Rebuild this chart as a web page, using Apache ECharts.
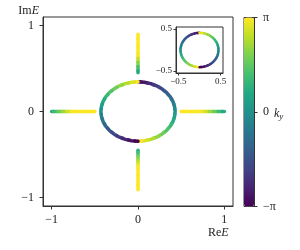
<!DOCTYPE html>
<html>
<head>
<meta charset="utf-8">
<script src="https://cdn.jsdelivr.net/npm/echarts@6/dist/echarts.min.js"></script>
<style>html,body{margin:0;padding:0;background:#fff}#c{width:300px;height:250px}</style>
</head>
<body>
<div id="c"></div>
<script>
// ---- data ----
const ringRightRe = [0, 0.075, 0.147, 0.215, 0.276, 0.329, 0.372, 0.404, 0.423, 0.43, 0.423, 0.404, 0.372, 0.329, 0.276, 0.215, 0.147, 0.075, 0];
const ringRightIm = [0.345, 0.340, 0.324, 0.299, 0.264, 0.222, 0.173, 0.118, 0.060, 0, -0.060, -0.118, -0.173, -0.222, -0.264, -0.299, -0.324, -0.340, -0.345];
const ringRightK  = [-3.14, -2.79, -2.44, -2.09, -1.75, -1.40, -1.05, -0.70, -0.35, 0, 0.35, 0.70, 1.05, 1.40, 1.75, 2.09, 2.44, 2.79, 3.14];
const ringLeftRe  = [0, -0.075, -0.147, -0.215, -0.276, -0.329, -0.372, -0.404, -0.423, -0.43, -0.423, -0.404, -0.372, -0.329, -0.276, -0.215, -0.147, -0.075, 0];
const ringLeftIm  = [0.345, 0.340, 0.324, 0.299, 0.264, 0.222, 0.173, 0.118, 0.060, 0, -0.060, -0.118, -0.173, -0.222, -0.264, -0.299, -0.324, -0.340, -0.345];
const ringLeftK   = [3.14, 2.79, 2.44, 2.09, 1.75, 1.40, 1.05, 0.70, 0.35, 0, -0.35, -0.70, -1.05, -1.40, -1.75, -2.09, -2.44, -2.79, -3.14];

const leftArmRe  = [-1.0, -0.95, -0.9, -0.85, -0.8, -0.75, -0.7, -0.6, -0.5];
const leftArmIm  = [0, 0, 0, 0, 0, 0, 0, 0, 0];
const leftArmK   = [0.7, 1.2, 1.7, 2.2, 2.7, 3.05, 3.14, 3.14, 3.14];
const rightArmRe = [0.5, 0.6, 0.7, 0.75, 0.8, 0.85, 0.9, 0.95, 1.0];
const rightArmIm = [0, 0, 0, 0, 0, 0, 0, 0, 0];
const rightArmK  = [3.14, 3.14, 3.14, 3.05, 2.7, 2.2, 1.7, 1.2, 0.7];
const topArmRe   = [0, 0, 0, 0, 0, 0, 0, 0];
const topArmIm   = [0.9, 0.8, 0.7, 0.64, 0.6, 0.55, 0.5, 0.45];
const topArmK    = [3.14, 3.14, 3.14, 3.05, 2.6, 2.0, 1.3, 0.7];
const botArmRe   = [0, 0, 0, 0, 0, 0, 0, 0];
const botArmIm   = [-0.45, -0.5, -0.55, -0.6, -0.64, -0.7, -0.8, -0.91];
const botArmK    = [0.7, 1.3, 2.0, 2.6, 3.05, 3.14, 3.14, 3.14];

const insetLeftRe  = [0, -0.078, -0.154, -0.225, -0.289, -0.345, -0.390, -0.423, -0.443, -0.45, -0.443, -0.423, -0.390, -0.345, -0.289, -0.225, -0.154, -0.078, 0];
const insetLeftIm  = [0.41, 0.404, 0.385, 0.355, 0.314, 0.264, 0.205, 0.140, 0.071, 0, -0.071, -0.140, -0.205, -0.264, -0.314, -0.355, -0.385, -0.404, -0.41];
const insetLeftK   = [-3.14, -2.79, -2.44, -2.09, -1.75, -1.40, -1.05, -0.70, -0.35, 0, 0.35, 0.70, 1.05, 1.40, 1.75, 2.09, 2.44, 2.79, 3.14];
const insetRightRe = [0, 0.078, 0.154, 0.225, 0.289, 0.345, 0.390, 0.423, 0.443, 0.45, 0.443, 0.423, 0.390, 0.345, 0.289, 0.225, 0.154, 0.078, 0];
const insetRightIm = [0.41, 0.404, 0.385, 0.355, 0.314, 0.264, 0.205, 0.140, 0.071, 0, -0.071, -0.140, -0.205, -0.264, -0.314, -0.355, -0.385, -0.404, -0.41];
const insetRightK  = [3.14, 2.79, 2.44, 2.09, 1.75, 1.40, 1.05, 0.70, 0.35, 0, -0.35, -0.70, -1.05, -1.40, -1.75, -2.09, -2.44, -2.79, -3.14];

const mainTicks = [-1, 0, 1];
const mainTickLabels = ['−1', '0', '1'];
const insetTicks = [-0.5, 0.5];
const insetTickLabels = ['−0.5', '0.5'];
const cbTicks = [-Math.PI, 0, Math.PI];
const cbTickLabels = ['−π', '0', 'π'];
const viridis = ['#440154', '#482475', '#414487', '#355f8d', '#2a788e', '#21918c', '#22a884', '#44bf70', '#7ad151', '#bddf26', '#fde725'];

// ---- build ----
const mainCurves = [
  {re: ringRightRe, im: ringRightIm, k: ringRightK},
  {re: ringLeftRe, im: ringLeftIm, k: ringLeftK},
  {re: leftArmRe, im: leftArmIm, k: leftArmK},
  {re: rightArmRe, im: rightArmIm, k: rightArmK},
  {re: topArmRe, im: topArmIm, k: topArmK},
  {re: botArmRe, im: botArmIm, k: botArmK}
];
const insetCurves = [
  {re: insetLeftRe, im: insetLeftIm, k: insetLeftK},
  {re: insetRightRe, im: insetRightIm, k: insetRightK}
];
function toData(curves) {
  const out = [];
  curves.forEach((c, ci) => c.re.forEach((r, i) => out.push([r, c.im[i], c.k[i], ci, i])));
  return out;
}
function makeRender(curves, width) {
  return function (params, api) {
    const c = curves[api.value(3)];
    const i = api.value(4);
    const n = c.re.length;
    const p = api.coord([c.re[i], c.im[i]]);
    const pts = [];
    if (i > 0) { const q = api.coord([c.re[i - 1], c.im[i - 1]]); pts.push([(p[0] + q[0]) / 2, (p[1] + q[1]) / 2]); }
    pts.push(p);
    if (i < n - 1) { const q = api.coord([c.re[i + 1], c.im[i + 1]]); pts.push([(p[0] + q[0]) / 2, (p[1] + q[1]) / 2]); }
    return {type: 'polyline', shape: {points: pts},
      style: {stroke: api.visual('color'), lineWidth: width, lineCap: 'round', lineJoin: 'round', fill: null}};
  };
}
const serif = 'Liberation Serif';
const ax = '#333';
const fmt = (vals, labels) => v => { const j = vals.findIndex(t => Math.abs(t - v) < 1e-6); return j >= 0 ? labels[j] : ''; };

const chart = echarts.init(document.getElementById('c'), null, {renderer: 'canvas'});
chart.setOption({
  animation: false,
  backgroundColor: '#fff',
  grid: [
    {left: 43, top: 17, width: 190, height: 189, show: true, borderColor: ax, borderWidth: 1, backgroundColor: 'transparent'},
    {left: 176, top: 27, width: 47, height: 46, show: true, borderColor: ax, borderWidth: 1, backgroundColor: '#fff'},
    {left: 244, top: 17.5, width: 10, height: 189, show: true, borderColor: ax, borderWidth: 1, backgroundColor: 'transparent'}
  ],
  xAxis: [
    {gridIndex: 0, type: 'value', min: -1.1, max: 1.1, splitLine: {show: false},
      axisLine: {show: true, onZero: false, lineStyle: {color: ax}},
      axisTick: {show: true, inside: false, length: 3.5, lineStyle: {color: ax}, customValues: mainTicks},
      axisLabel: {customValues: mainTicks, formatter: fmt(mainTicks, mainTickLabels), margin: 8, color: '#222', fontFamily: serif, fontSize: 12},
      name: '{r|Re}{i|E}', nameLocation: 'end', nameGap: -25,
      nameTextStyle: {align: 'left', verticalAlign: 'top', padding: [21, 0, 0, 0],
        rich: {r: {fontFamily: serif, fontSize: 12, color: '#222'}, i: {fontFamily: serif, fontSize: 12, fontStyle: 'italic', color: '#222'}}}},
    {gridIndex: 1, type: 'value', min: -0.555, max: 0.555, splitLine: {show: false},
      axisLine: {show: true, onZero: false, lineStyle: {color: ax}},
      axisTick: {show: true, inside: false, length: 2.5, lineStyle: {color: ax}, customValues: insetTicks},
      axisLabel: {customValues: insetTicks, formatter: fmt(insetTicks, insetTickLabels), margin: 4, color: '#222', fontFamily: serif, fontSize: 9}},
    {gridIndex: 2, type: 'value', show: false, min: 0, max: 1}
  ],
  yAxis: [
    {gridIndex: 0, type: 'value', min: -1.1, max: 1.1, splitLine: {show: false},
      axisLine: {show: true, onZero: false, lineStyle: {color: ax}},
      axisTick: {show: true, inside: false, length: 3.5, lineStyle: {color: ax}, customValues: mainTicks},
      axisLabel: {customValues: mainTicks, formatter: fmt(mainTicks, mainTickLabels), margin: 9, color: '#222', fontFamily: serif, fontSize: 12},
      name: '{r|Im}{i|E}', nameLocation: 'end', nameGap: 6,
      nameTextStyle: {align: 'right', verticalAlign: 'middle', padding: [0, 4, 0, 0],
        rich: {r: {fontFamily: serif, fontSize: 12, color: '#222'}, i: {fontFamily: serif, fontSize: 12, fontStyle: 'italic', color: '#222'}}}},
    {gridIndex: 1, type: 'value', min: -0.55, max: 0.55, splitLine: {show: false},
      axisLine: {show: true, onZero: false, lineStyle: {color: ax}},
      axisTick: {show: true, inside: false, length: 2.5, lineStyle: {color: ax}, customValues: insetTicks},
      axisLabel: {customValues: insetTicks, formatter: fmt(insetTicks, insetTickLabels), margin: 4, color: '#222', fontFamily: serif, fontSize: 9}},
    {gridIndex: 2, type: 'value', position: 'right', min: -Math.PI, max: Math.PI, splitLine: {show: false},
      axisLine: {show: true, onZero: false, lineStyle: {color: ax}},
      axisTick: {show: true, inside: false, length: 3.5, lineStyle: {color: ax}, customValues: cbTicks},
      axisLabel: {customValues: cbTicks, formatter: fmt(cbTicks, cbTickLabels), margin: 9, color: '#222', fontFamily: serif, fontSize: 12},
      name: '{i|k}{s|y}', nameLocation: 'middle', nameRotate: 0, nameGap: 20, nameMoveOverlap: false,
      nameTextStyle: {align: 'left', verticalAlign: 'middle', padding: [4, 0, 0, 0],
        rich: {i: {fontFamily: serif, fontSize: 12, fontStyle: 'italic', color: '#222'}, s: {fontFamily: serif, fontSize: 9, fontStyle: 'italic', color: '#222', verticalAlign: 'bottom', padding: [6, 0, 0, 0]}}}}
  ],
  visualMap: {
    type: 'continuous', min: -Math.PI, max: Math.PI, dimension: 2, seriesIndex: [0, 1],
    inRange: {color: viridis}, orient: 'vertical', left: 244, top: 17.5, itemWidth: 10, itemHeight: 189,
    calculable: false, padding: 0, hoverLink: false, text: null
  },
  series: [
    {type: 'custom', xAxisIndex: 0, yAxisIndex: 0, data: toData(mainCurves), encode: {x: 0, y: 1},
      renderItem: makeRender(mainCurves, 3.5), z: 3},
    {type: 'custom', xAxisIndex: 1, yAxisIndex: 1, data: toData(insetCurves), encode: {x: 0, y: 1},
      renderItem: makeRender(insetCurves, 2.5), z: 5}
  ]
});
</script>
</body>
</html>
